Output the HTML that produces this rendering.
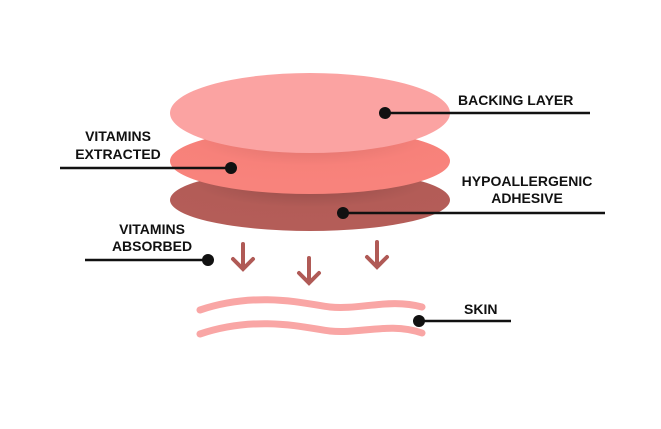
<!DOCTYPE html>
<html><head><style>
body{margin:0;background:#fff;}
svg{display:block}
text{font-family:"Liberation Sans",sans-serif;font-size:14px;font-weight:bold;fill:#111;}
</style></head><body>
<svg width="661" height="429" viewBox="0 0 661 429">
<defs>
<radialGradient id="g3" cx="0.5" cy="0.2" r="0.7"><stop offset="0" stop-color="#8f4a47"/><stop offset="0.6" stop-color="#b35c57"/><stop offset="1" stop-color="#b45d58"/></radialGradient>
<radialGradient id="g2" cx="0.5" cy="0.15" r="0.7"><stop offset="0" stop-color="#d8706a"/><stop offset="0.6" stop-color="#f7817a"/><stop offset="1" stop-color="#f8837c"/></radialGradient>
</defs>
<ellipse cx="310" cy="200" rx="140" ry="31" fill="url(#g3)"/>
<ellipse cx="310" cy="161" rx="140" ry="33" fill="url(#g2)"/>
<ellipse cx="310" cy="113" rx="140" ry="40" fill="#fba3a2"/>
<g stroke="#111" stroke-width="2.5" fill="none">
<line x1="385" y1="113" x2="590" y2="113"/>
<line x1="60" y1="168" x2="231" y2="168"/>
<line x1="343" y1="213" x2="605" y2="213"/>
<line x1="85" y1="260" x2="208" y2="260"/>
<line x1="419" y1="321" x2="511" y2="321"/>
</g>
<g fill="#111">
<circle cx="385" cy="113" r="6"/><circle cx="231" cy="168" r="6"/><circle cx="343" cy="213" r="6"/><circle cx="208" cy="260" r="6"/><circle cx="419" cy="321" r="6"/>
</g>
<g stroke="#b05a56" stroke-width="4" stroke-linecap="round" fill="none">
<path d="M243 244V268M233 259L243 269L253 259"/>
<path d="M309 258V282M299 273L309 283L319 273"/>
<path d="M377 242V266M367 257L377 267L387 257"/>
</g>
<g stroke="#f9a6a5" stroke-width="7" stroke-linecap="round" fill="none">
<path d="M200 310C260 290 310 305 330 307C360 310 390 298 422 307"/>
<path d="M200 334C260 314 310 329 330 331C360 334 390 322 422 333"/>
</g>
<text x="458" y="105">BACKING LAYER</text>
<text x="118" y="141" text-anchor="middle">VITAMINS</text>
<text x="118" y="159" text-anchor="middle">EXTRACTED</text>
<text x="527" y="186" text-anchor="middle">HYPOALLERGENIC</text>
<text x="527" y="203" text-anchor="middle">ADHESIVE</text>
<text x="152" y="234" text-anchor="middle">VITAMINS</text>
<text x="152" y="251" text-anchor="middle">ABSORBED</text>
<text x="464" y="314">SKIN</text>
</svg>
</body></html>
